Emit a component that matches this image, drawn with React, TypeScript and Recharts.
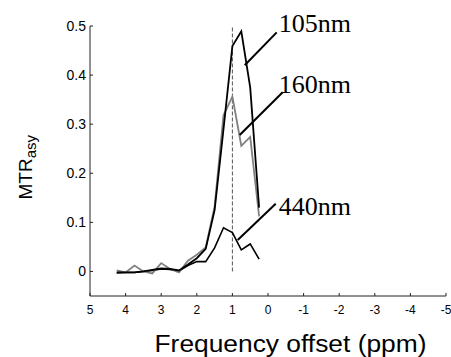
import React from "react";
import {
  LineChart,
  Line,
  XAxis,
  YAxis,
  ReferenceLine,
  ReferenceDot,
} from "recharts";

const ppm = [4.25, 4.0, 3.75, 3.5, 3.25, 3.0, 2.75, 2.5, 2.25, 2.0, 1.75, 1.5, 1.25, 1.0, 0.75, 0.5, 0.25];
const nm105 = [-0.002, -0.002, -0.002, 0.0, 0.003, 0.006, 0.005, 0.002, 0.014, 0.027, 0.046, 0.125, 0.29, 0.459, 0.489, 0.375, 0.13];
const nm160 = [0.002, -0.002, 0.012, 0.0, -0.004, 0.017, 0.005, -0.002, 0.022, 0.034, 0.049, 0.132, 0.318, 0.356, 0.256, 0.274, 0.112];
const nm440 = [-0.003, -0.002, -0.002, 0.0, 0.002, 0.005, 0.004, 0.001, 0.012, 0.02, 0.02, 0.048, 0.089, 0.079, 0.044, 0.056, 0.025];

const xTicks = [5, 4, 3, 2, 1, 0, -1, -2, -3, -4, -5];
const yTicks = [0, 0.1, 0.2, 0.3, 0.4, 0.5];

const labelNames = ["105nm", "160nm", "440nm"];
const labelPos = [
  { x: -0.3, y: 0.488 },
  { x: -0.3, y: 0.364 },
  { x: -0.3, y: 0.115 },
];
const leaderLines = [
  [{ x: 0.654, y: 0.42 }, { x: -0.244, y: 0.487 }],
  [{ x: 0.795, y: 0.278 }, { x: -0.413, y: 0.365 }],
  [{ x: 0.851, y: 0.064 }, { x: -0.216, y: 0.138 }],
];
const centerLine = [{ x: 1, y: 0 }, { x: 1, y: 0.5 }];

const data = ppm.map((p, i) => ({ ppm: p, a: nm105[i], b: nm160[i], c: nm440[i] }));

const fmtY = (v: number) => (v === 0 ? "0" : v.toFixed(1));

export default function App() {
  return (
    <div style={{ position: "absolute", left: 0, top: 0, background: "#fff" }}>
      <LineChart
        width={451}
        height={357}
        data={data}
        margin={{ top: 26, right: 5, bottom: 0, left: 0 }}
      >
        <XAxis
          dataKey="ppm"
          type="number"
          domain={[-5, 5]}
          ticks={xTicks}
          reversed
          allowDataOverflow
          height={61}
          tickSize={-3}
          tickMargin={12}
          stroke="#222"
          tick={{ fill: "#000", fontSize: 12, fontFamily: "Arial, 'Liberation Sans', sans-serif" }}
          label={() => (
            <text
              x={290.5}
              y={351.5}
              textAnchor="middle"
              fontFamily="Arial, 'Liberation Sans', sans-serif"
              fontSize={23}
              textLength={272}
              lengthAdjust="spacingAndGlyphs"
              fill="#000"
            >
              Frequency offset (ppm)
            </text>
          )}
        />
        <YAxis
          type="number"
          domain={[-0.05, 0.5]}
          ticks={yTicks}
          allowDataOverflow
          width={90}
          tickSize={-3}
          tickMargin={7}
          tickFormatter={fmtY}
          stroke="#222"
          tick={{ fill: "#000", fontSize: 14, fontFamily: "Arial, 'Liberation Sans', sans-serif" }}
          label={() => (
            <text
              transform="translate(31.5,199.5) rotate(-90)"
              x={0}
              y={0}
              fontFamily="Arial, 'Liberation Sans', sans-serif"
              fontSize={19}
              fill="#000"
            >
              <tspan>MTR</tspan>
              <tspan fontSize={15} dy={4}>asy</tspan>
            </text>
          )}
        />
        <ReferenceLine
          segment={centerLine}
          stroke="#555"
          strokeWidth={1}
          strokeDasharray="4 2"
          ifOverflow="visible"
        />
        <Line dataKey="c" stroke="#000" strokeWidth={1.6} dot={false} isAnimationActive={false} />
        <Line dataKey="b" stroke="#808080" strokeWidth={1.8} dot={false} isAnimationActive={false} />
        <Line dataKey="a" stroke="#000" strokeWidth={1.8} dot={false} isAnimationActive={false} />
        {leaderLines.map((seg, i) => (
          <ReferenceLine
            key={"l" + i}
            segment={seg}
            stroke="#000"
            strokeWidth={2}
            ifOverflow="visible"
          />
        ))}
        {labelPos.map((p, i) => (
          <ReferenceDot
            key={"t" + i}
            x={p.x}
            y={p.y}
            r={0}
            fill="none"
            stroke="none"
            ifOverflow="visible"
            label={(props: any) => {
              const vb = props.viewBox || {};
              return (
                <text
                  x={vb.x}
                  y={vb.y}
                  fontFamily="'Liberation Serif', 'Times New Roman', serif"
                  fontSize={26}
                  fill="#000"
                >
                  {labelNames[i]}
                </text>
              );
            }}
          />
        ))}
      </LineChart>
    </div>
  );
}
